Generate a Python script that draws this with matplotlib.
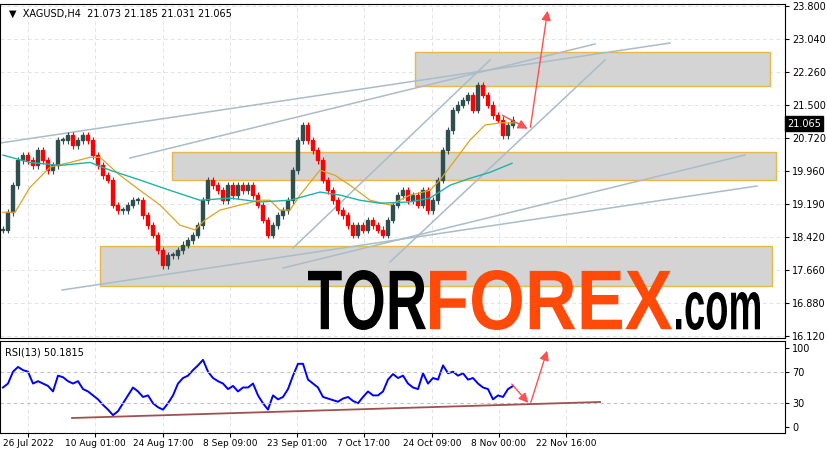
import numpy as np
import matplotlib.pyplot as plt
from matplotlib.patches import Rectangle, PathPatch
from matplotlib.textpath import TextPath
from matplotlib.font_manager import FontProperties
from matplotlib.transforms import Affine2D

# closes, one candle per ~6 H4 bars
closes = [18.59, 19.00, 19.63, 20.21, 20.33, 20.21, 20.09, 20.44, 20.21, 19.98,
          20.09, 20.68, 20.68, 20.79, 20.56, 20.68, 20.79, 20.68, 20.33, 20.09,
          19.86, 19.75, 19.17, 19.05, 19.05, 19.17, 19.28, 19.28, 18.93, 18.70,
          18.47, 18.12, 17.77, 18.00, 18.00, 18.12, 18.24, 18.35, 18.47, 18.70,
          19.28, 19.75, 19.63, 19.51, 19.28, 19.63, 19.40, 19.63, 19.51, 19.63,
          19.40, 19.17, 18.82, 18.47, 18.70, 18.93, 19.05, 19.28, 19.98, 20.68,
          21.03, 20.68, 20.44, 20.21, 19.75, 19.51, 19.28, 19.05, 18.93, 18.70,
          18.47, 18.70, 18.59, 18.82, 18.70, 18.59, 18.47, 18.82, 19.17, 19.40,
          19.51, 19.28, 19.40, 19.17, 19.51, 19.05, 19.28, 19.75, 20.44, 20.91,
          21.38, 21.50, 21.61, 21.73, 21.38, 21.96, 21.73, 21.50, 21.26, 21.15,
          20.79, 21.03, 21.15]
rsi = [50, 55, 70, 76, 72, 70, 55, 58, 55, 52, 45, 65, 63, 58, 55, 58, 48, 45, 40, 35,
       28, 22, 15, 20, 30, 40, 50, 45, 38, 40, 30, 25, 22, 30, 40, 55, 62, 65, 72, 78,
       85, 70, 62, 58, 55, 48, 52, 45, 50, 50, 55, 40, 30, 22, 40, 35, 38, 48, 65, 80,
       80, 60, 55, 50, 38, 36, 34, 32, 36, 38, 33, 30, 38, 45, 40, 40, 45, 60, 67, 62,
       65, 55, 50, 48, 68, 55, 62, 60, 78, 68, 70, 65, 68, 60, 62, 55, 50, 48, 35, 40,
       38, 48, 52]
ma_fast_x = [0, 2.4, 5.4, 9.4, 13.4, 17.4, 19.4, 23.4, 27.4, 31.4, 35.4, 38.4, 40.4, 43.4,
             47.4, 51.4, 53.4, 55.4, 57.4, 59.4, 63.4, 66.4, 69.4, 73.4, 77.4, 81.4, 85.4,
             87.4, 90.4, 93.4, 96.4, 99.4, 102.4]
ma_fast = [19.0, 19.0, 19.58, 20.05, 20.16, 20.28, 20.28, 19.86, 19.51, 19.17, 18.70,
           18.59, 18.82, 19.05, 19.17, 19.28, 19.28, 19.05, 19.05, 19.40, 19.98, 19.86,
           19.63, 19.28, 19.17, 19.40, 19.51, 19.75, 20.21, 20.68, 21.03, 21.08, 21.08]
ma_slow_x = [0, 5.4, 11.4, 17.4, 21.4, 27.4, 33.4, 39.4, 45.4, 51.4, 57.4, 63.4, 67.4,
             71.4, 75.4, 81.4, 85.4, 89.4, 93.4, 97.4, 101.8]
ma_slow = [20.33, 20.16, 20.09, 20.16, 19.98, 19.75, 19.51, 19.28, 19.33, 19.24, 19.28,
           19.47, 19.40, 19.28, 19.21, 19.24, 19.33, 19.63, 19.79, 19.93, 20.14]
tick_pos = [5, 18.4, 32, 45.4, 58.8, 72.2, 85.8, 99.2, 112.6]
tick_labels = ['26 Jul 2022', '10 Aug 01:00', '24 Aug 17:00', '8 Sep 09:00', '23 Sep 01:00',
               '7 Oct 17:00', '24 Oct 09:00', '8 Nov 00:00', '22 Nov 16:00']
price_ticks = [23.800, 23.040, 22.260, 21.500, 20.720, 19.960, 19.190, 18.420, 17.660, 16.880, 16.120]


def px2x(px):
    return (px - 3) / 5.0


def py2p(py):
    return 23.8 - (py - 6) * 0.02327


def py2r(py):
    return (427 - py) / 79 * 100


fig = plt.figure(figsize=(8.28, 4.55), dpi=100)
ax = fig.add_axes([0, 117 / 455, 785 / 828, 334 / 455])
ax2 = fig.add_axes([0, 22 / 455, 785 / 828, 92 / 455])
xlim = (px2x(0), px2x(785))

# zones
for x0, x1, y0, y1 in [(415, 770, 52, 86), (172, 776, 152, 180), (100, 772, 246, 286)]:
    ax.add_patch(Rectangle((px2x(x0), py2p(y1)), px2x(x1) - px2x(x0), py2p(y0) - py2p(y1),
                           facecolor='#d4d4d4', edgecolor='#e8b84a', lw=1, zorder=1))
# trend lines
for (a, b), (c, d) in [((0, 143), (670, 43)), ((130, 158), (595, 44)), ((283, 268), (745, 155)),
                       ((62, 290), (757, 186)), ((293, 248), (490, 60)), ((390, 262), (605, 60))]:
    ax.plot([px2x(a), px2x(c)], [py2p(b), py2p(d)], color='#a9bcc8', lw=1.1, zorder=2)

# candles
opens = [closes[0]] + closes[:-1]
for i, (o, c) in enumerate(zip(opens, closes)):
    col = '#2f4f4f' if c >= o else '#ff0000'
    lo, hi = min(o, c), max(o, c)
    ax.vlines(i, lo - 0.08, hi + 0.08, color=col, lw=0.8, zorder=3)
    ax.add_patch(Rectangle((i - 0.3, lo), 0.6, max(hi - lo, 0.02), color=col, zorder=3))
ax.plot(ma_fast_x, ma_fast, color='#daa520', lw=0.9, zorder=4)
ax.plot(ma_slow_x, ma_slow, color='#20b2aa', lw=1.0, zorder=4)

# arrows
akw = dict(arrowstyle='-|>', color='#ff5050', lw=1, mutation_scale=14)
ax.annotate('', xy=(px2x(530), py2p(130)), xytext=(px2x(500), py2p(114)), arrowprops=akw, zorder=5)
ax.annotate('', xy=(px2x(548), py2p(8)), xytext=(px2x(530), py2p(130)), arrowprops=akw, zorder=5)

for y in price_ticks:
    ax.axhline(y, color='#e4e4e4', lw=0.7, ls=(0, (4, 3)), zorder=0)
for x in tick_pos:
    ax.axvline(x, color='#e4e4e4', lw=0.7, ls=(0, (4, 3)), zorder=0)
    ax2.axvline(x, color='#e4e4e4', lw=0.7, ls=(0, (4, 3)), zorder=0)

ax.set_xlim(*xlim)
ax.set_ylim(py2p(338), py2p(4))
ax.yaxis.tick_right()
ax.set_yticks(price_ticks)
ax.set_yticklabels([f'{v:.3f}' for v in price_ticks], fontsize=7)
ax.set_xticks([])
ax.tick_params(axis='y', length=3, pad=2)
ax.text(0.012, 0.985, '▼  XAGUSD,H4  21.073 21.185 21.031 21.065', transform=ax.transAxes,
        fontsize=7, va='top')
ax.text(1.003, 21.065, '21.065', transform=ax.get_yaxis_transform(), fontsize=7, color='white',
        va='center', ha='left', bbox=dict(facecolor='black', edgecolor='black', pad=1.5), clip_on=False)

# logo: text squeezed into fixed pixel boxes (x0, x1, top, bottom from image top)
H = 455
prop = FontProperties(family='Liberation Sans', weight='bold')
for s, col, x0, x1, top, bot in [('TOR', 'black', 308, 426, 270, 330),
                                 ('FOREX', '#ff4a0a', 430, 672, 270, 330),
                                 ('.com', 'black', 676, 760, 292, 330)]:
    tp = TextPath((0, 0), s, size=1, prop=prop)
    ext = tp.get_extents()
    tr = Affine2D().translate(-ext.x0, -ext.y0).scale((x1 - x0) / ext.width, (bot - top) / ext.height) \
        .translate(x0, H - bot)
    fig.patches.append(PathPatch(tr.transform_path(tp), facecolor=col, edgecolor='none',
                                 transform=None, figure=fig, zorder=10))

# RSI
ax2.plot(range(len(rsi)), rsi, color='#0000ff', lw=1.4)
ax2.axhline(70, color='#c0c0c0', lw=0.8, ls=(0, (3, 3)))
ax2.axhline(30, color='#c0c0c0', lw=0.8, ls=(0, (3, 3)))
ax2.plot([px2x(72), px2x(600)], [py2r(418), py2r(402)], color='#a05050', lw=1.3)
ax2.annotate('', xy=(px2x(530), py2r(405)), xytext=(px2x(510), py2r(382)), arrowprops=akw)
ax2.annotate('', xy=(px2x(548), py2r(348)), xytext=(px2x(530), py2r(405)), arrowprops=akw)
ax2.text(0.006, 0.93, 'RSI(13) 50.1815', transform=ax2.transAxes, fontsize=7, va='top')
ax2.set_xlim(*xlim)
ax2.set_ylim(py2r(433), py2r(341))
ax2.yaxis.tick_right()
ax2.set_yticks([100, 70, 30, 0])
ax2.tick_params(axis='y', labelsize=7, length=3, pad=2)
ax2.set_xticks(tick_pos)
ax2.set_xticklabels(tick_labels, fontsize=6.5)
ax2.tick_params(axis='x', length=3, pad=1)
for a in (ax, ax2):
    for s in a.spines.values():
        s.set_linewidth(0.8)

fig.savefig('out.png', dpi=100)
